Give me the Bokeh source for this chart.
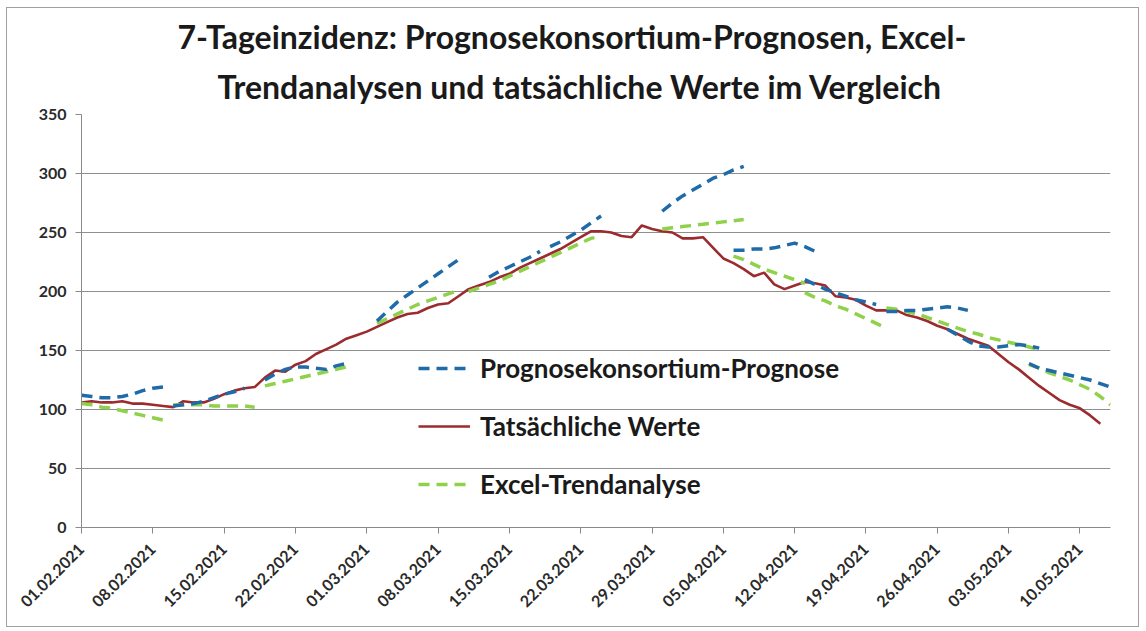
import pandas as pd
from math import pi
from bokeh.plotting import figure
from bokeh.models import (Range1d, FixedTicker, DatetimeTickFormatter, Legend,
                          LegendItem, Title)
from bokeh.embed import file_html
from bokeh.resources import INLINE

title_line1 = "7-Tageinzidenz: Prognosekonsortium-Prognosen, Excel-"
title_line2 = "Trendanalysen und tatsächliche Werte im Vergleich"

series_names = ["Prognosekonsortium-Prognose", "Tatsächliche Werte", "Excel-Trendanalyse"]

start_date = "2021-02-01"
# Tatsächliche Werte (daily, from 01.02.2021)
actual = [106, 107, 106, 106, 107, 105, 105, 104, 103, 102,
          107, 106, 106, 109, 113, 116, 118, 119, 127, 133,
          132, 138, 141, 147, 151, 155, 160, 163, 166, 170,
          174, 178, 181, 182, 186, 189, 190, 196, 202, 205,
          208, 212, 215, 220, 224, 228, 232, 236, 241, 246,
          251, 251, 250, 247, 246, 256, 253, 251, 250, 245,
          245, 246, 237, 228, 224, 219, 213, 216, 206, 202,
          205, 208, 207, 205, 196, 195, 193, 188, 184, 184,
          184, 180, 178, 175, 171, 168, 164, 160, 157, 154,
          147, 140, 134, 127, 120, 114, 108, 104, 101, 95, 88]

# Prognosekonsortium-Prognosen: (start date, daily values)
prognose_segments = [
    ("2021-02-01", [112, 111, 110, 110, 111, 113, 116, 118, 119]),
    ("2021-02-10", [103, 104, 105, 107, 110, 113, 115, 118]),
    ("2021-02-19", [125, 130, 134, 136, 136, 135, 134, 137, 139]),
    ("2021-03-02", [175, 183, 191, 197, 203, 209, 215, 221, 227]),
    ("2021-03-13", [212, 217, 221, 225, 229, 234]),
    ("2021-03-19", [238, 242, 247, 252, 258, 264]),
    ("2021-03-30", [268, 275, 281, 286, 291, 296, 299, 303, 306]),
    ("2021-04-06", [235, 235, 236, 236, 237, 239, 241, 238, 234]),
    ("2021-04-13", [210, 206, 202, 199, 196, 193, 191, 189]),
    ("2021-04-21", [183, 183, 184, 184, 185, 186, 187, 186, 184]),
    ("2021-04-27", [168, 163, 158, 154, 153, 153, 154, 155, 154, 152]),
    ("2021-05-05", [139, 135, 133, 131, 129, 127, 125, 122, 119]),
]

# Excel-Trendanalysen: (start date, daily values)
trend_segments = [
    ("2021-02-01", [105, 104, 102, 101, 99, 97, 95, 93, 91]),
    ("2021-02-10", [104, 104, 104, 104, 103, 103, 103, 103, 102]),
    ("2021-02-19", [120, 122, 124, 126, 128, 130, 132, 134, 136]),
    ("2021-03-02", [173, 177, 181, 185, 189, 192, 195, 198, 201]),
    ("2021-03-11", [200, 203, 206, 209, 213, 217, 221, 225, 229, 233, 237, 241, 245, 247]),
    ("2021-03-30", [253, 254, 255, 256, 257, 258, 259, 260, 261]),
    ("2021-04-06", [230, 227, 223, 219, 216, 213, 210, 207]),
    ("2021-04-13", [199, 195, 192, 188, 185, 181, 177, 173, 169]),
    ("2021-04-21", [186, 185, 183, 181, 178, 175, 172, 169, 166, 164, 161, 159, 157, 155, 153, 151]),
    ("2021-05-05", [138, 135, 131, 128, 125, 121, 117, 111, 104]),
]

tick_labels = ["01.02.2021", "08.02.2021", "15.02.2021", "22.02.2021", "01.03.2021",
               "08.03.2021", "15.03.2021", "22.03.2021", "29.03.2021", "05.04.2021",
               "12.04.2021", "19.04.2021", "26.04.2021", "03.05.2021", "10.05.2021"]
y_ticks = [0, 50, 100, 150, 200, 250, 300, 350]

BLUE = "#1f6aa8"
RED = "#9b2b2e"
GREEN = "#8fd14a"
FONT = "Lato"

p = figure(width=1133, height=620, x_axis_type="datetime",
           output_backend="svg", toolbar_location=None,
           x_range=Range1d(pd.Timestamp("2021-02-01"), pd.Timestamp("2021-05-13")),
           y_range=Range1d(0, 350),
           min_border_left=74, min_border_right=30,
           min_border_top=106, min_border_bottom=101)
p.styles = {"border": "1px solid #a0a0a0", "margin-left": "6px", "margin-top": "7px"}
p.outline_line_color = None
p.background_fill_color = "white"
p.border_fill_color = "white"

# titles (p.title is the outer line, the added Title sits next to the plot)
p.title.text = title_line1
p.title.align = "left"
p.title.offset = 96
p.title.text_font = FONT
p.title.text_font_style = "bold"
p.title.text_font_size = "32px"
p.title.text_color = "#1a1a1a"
p.title.standoff = 0
t2 = Title(text=title_line2, align="left", offset=136, text_font=FONT,
           text_font_style="bold", text_font_size="32px", text_color="#1a1a1a",
           standoff=18)
p.add_layout(t2, "above")

# axes
tick_dates = pd.to_datetime(tick_labels, format="%d.%m.%Y")
p.xaxis.ticker = FixedTicker(ticks=[d.timestamp() * 1000 for d in tick_dates])
fmt = "%d.%m.%Y"
p.xaxis.formatter = DatetimeTickFormatter(days=fmt, months=fmt, years=fmt, hours=fmt,
                                          hourmin=fmt, minutes=fmt, minsec=fmt,
                                          seconds=fmt, milliseconds=fmt, microseconds=fmt)
p.xaxis.major_label_orientation = pi / 4
p.xaxis.major_label_standoff = 13
p.yaxis.ticker = FixedTicker(ticks=y_ticks)
p.yaxis.major_label_standoff = 9
for ax in (p.xaxis, p.yaxis):
    ax.axis_line_color = "#8a8a8a"
    ax.major_tick_line_color = "#8a8a8a"
    ax.major_tick_out = 6
    ax.major_tick_in = 0
    ax.minor_tick_line_color = None
    ax.major_label_text_font = FONT
    ax.major_label_text_font_style = "bold"
    ax.major_label_text_font_size = "16px"
    ax.major_label_text_color = "#2a2a2a"
p.xgrid.grid_line_color = None
p.ygrid.grid_line_color = "#8f8f8f"
p.ygrid.grid_line_width = 1

# data
act_x = pd.date_range(start_date, periods=len(actual), freq="D")
prog_xs = [pd.date_range(s, periods=len(v), freq="D") for s, v in prognose_segments]
prog_ys = [v for s, v in prognose_segments]
trend_xs = [pd.date_range(s, periods=len(v), freq="D") for s, v in trend_segments]
trend_ys = [v for s, v in trend_segments]

r_act = p.line(act_x, actual, line_color=RED, line_width=2.6)
r_trend = p.multi_line(trend_xs, trend_ys, line_color=GREEN, line_width=3.5, line_dash="11 7")
r_prog = p.multi_line(prog_xs, prog_ys, line_color=BLUE, line_width=3.5, line_dash="11 7")

legend = Legend(items=[LegendItem(label=series_names[0], renderers=[r_prog]),
                       LegendItem(label=series_names[1], renderers=[r_act]),
                       LegendItem(label=series_names[2], renderers=[r_trend])],
                location=(337, 27), orientation="vertical",
                glyph_width=52, glyph_height=26, label_height=26,
                label_standoff=10, spacing=26, padding=0, margin=0,
                border_line_color=None, background_fill_alpha=0,
                label_text_font=FONT, label_text_font_style="bold",
                label_text_font_size="26px", label_text_color="#1a1a1a")
p.add_layout(legend)

open("out.html", "w").write(file_html(p, INLINE))
